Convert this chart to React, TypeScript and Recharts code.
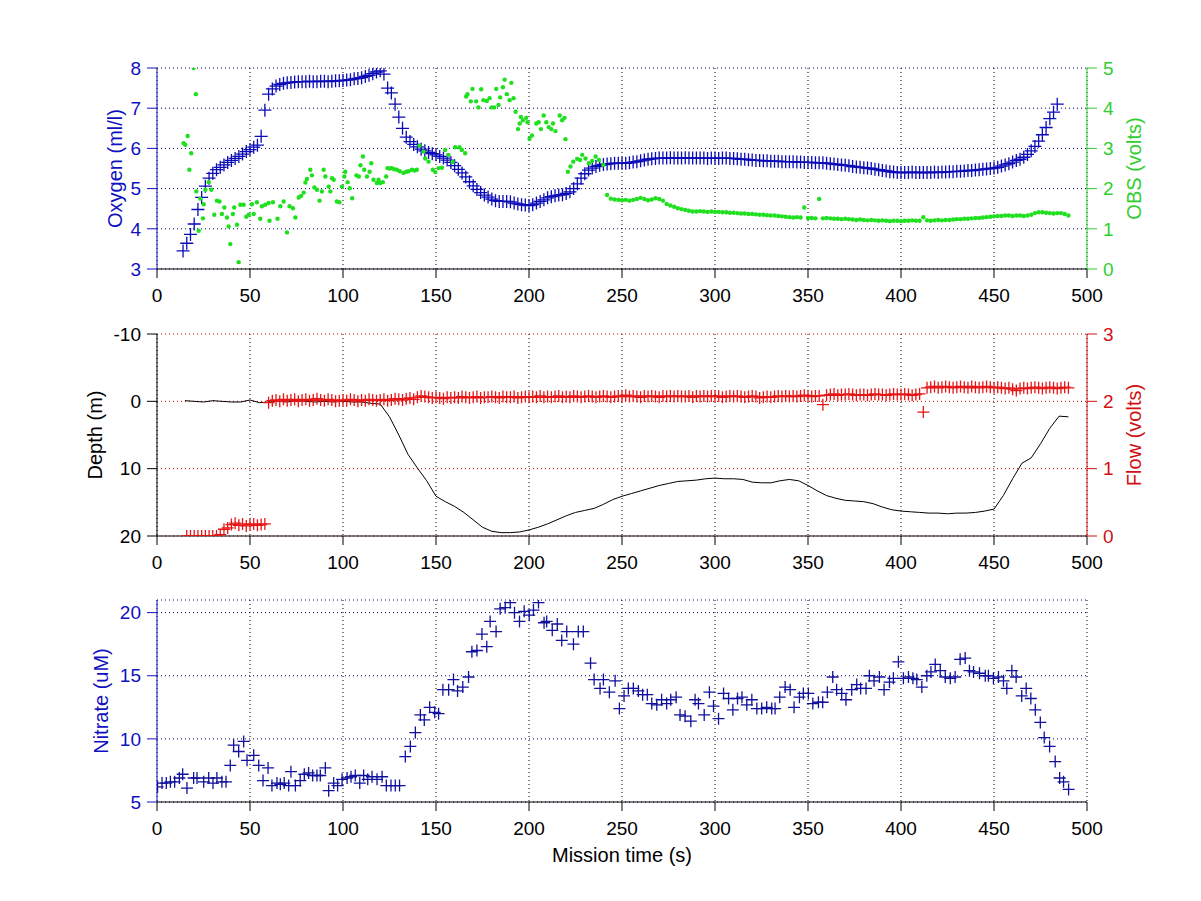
import {
  ComposedChart,
  Scatter,
  Line,
  XAxis,
  YAxis,
  CartesianGrid,
} from "recharts";

// ---- axis ticks ----
const X_TICKS = [0, 50, 100, 150, 200, 250, 300, 350, 400, 450, 500];
const OXY_TICKS = [3, 4, 5, 6, 7, 8];
const OBS_TICKS = [0, 1, 2, 3, 4, 5];
const DEPTH_TICKS = [-10, 0, 10, 20];
const FLOW_TICKS = [0, 1, 2, 3];
const NITRATE_TICKS = [5, 10, 15, 20];

// ---- oxygen (ml/l), one reading every 2 s from t = 14 s ----
const OXY_START = 14;
const OXY_STEP = 2;
const oxygen = [
  3.45, 3.64, 3.86, 4.12, 4.48, 4.78, 5.06, 5.26, 5.38, 5.47,
  5.53, 5.59, 5.65, 5.7, 5.75, 5.8, 5.86, 5.92, 5.97, 6.03,
  6.08, 6.3, 6.95, 7.35, 7.48, 7.55, 7.59, 7.62, 7.63, 7.64,
  7.65, 7.66, 7.66, 7.66, 7.67, 7.66, 7.66, 7.67, 7.67, 7.66,
  7.67, 7.68, 7.68, 7.69, 7.7, 7.71, 7.73, 7.74, 7.76, 7.79,
  7.82, 7.86, 7.9, 7.93, 7.85, 7.5, 7.38, 7.1, 6.78, 6.5,
  6.28, 6.17, 6.1, 6.04, 5.98, 5.94, 5.9, 5.87, 5.84, 5.8,
  5.76, 5.71, 5.65, 5.57, 5.48, 5.39, 5.29, 5.17, 5.07, 4.98,
  4.9, 4.84, 4.79, 4.74, 4.7, 4.68, 4.68, 4.68, 4.67, 4.64,
  4.62, 4.6, 4.59, 4.58, 4.6, 4.64, 4.68, 4.72, 4.77, 4.8,
  4.82, 4.84, 4.85, 4.88, 4.92, 5.0, 5.12, 5.26, 5.37, 5.46,
  5.51, 5.55, 5.58, 5.6, 5.61, 5.62, 5.63, 5.63, 5.63, 5.63,
  5.64, 5.66, 5.67, 5.69, 5.71, 5.73, 5.74, 5.75, 5.76, 5.76,
  5.76, 5.77, 5.76, 5.76, 5.76, 5.77, 5.76, 5.76, 5.76, 5.76,
  5.76, 5.75, 5.76, 5.76, 5.75, 5.76, 5.76, 5.75, 5.75, 5.74,
  5.73, 5.73, 5.72, 5.71, 5.7, 5.7, 5.69, 5.69, 5.68, 5.68,
  5.68, 5.67, 5.67, 5.67, 5.67, 5.66, 5.66, 5.65, 5.65, 5.65,
  5.64, 5.64, 5.64, 5.63, 5.62, 5.61, 5.6, 5.59, 5.58, 5.57,
  5.55, 5.54, 5.53, 5.52, 5.51, 5.5, 5.48, 5.47, 5.45, 5.44,
  5.42, 5.41, 5.4, 5.4, 5.4, 5.4, 5.41, 5.4, 5.4, 5.4,
  5.4, 5.4, 5.41, 5.4, 5.41, 5.41, 5.42, 5.42, 5.43, 5.43,
  5.44, 5.45, 5.45, 5.46, 5.47, 5.48, 5.49, 5.5, 5.51, 5.53,
  5.56, 5.59, 5.62, 5.66, 5.7, 5.73, 5.78, 5.85, 5.94, 6.05,
  6.18, 6.34, 6.52, 6.74, 6.9, 7.1,
];

// ---- OBS (volts): scattered readings before 242 s ----
const obsEarly: [number, number][] = [
  [14.3, 3.13], [15.2, 3.09], [16.5, 3.31], [17.4, 2.47], [18.4, 2.88], [19.7, 5.0], [20.9, 4.35],
  [21.1, 1.93], [22.4, 0.95], [23.3, 1.75], [24.7, 1.26], [25.1, 1.61], [26, 1.97], [27.8, 2.16],
  [29.2, 1.97], [30.8, 1.35], [32.2, 1.7], [33.6, 1.68], [34.9, 1.37], [36.2, 1.53], [37.6, 1.28],
  [38.5, 1.06], [39.4, 0.62], [40.8, 1.37], [41.5, 1.53], [43, 1.1], [43.9, 0.17], [44.8, 1.6],
  [46.6, 1.6], [48, 1.3], [49.3, 1.35], [51, 1.61], [52, 1.37], [53.7, 1.66], [55.5, 1.25],
  [56.4, 1.56], [58.2, 1.6], [60, 1.64], [60.5, 1.2], [62.3, 1.66], [64.8, 1.25], [66.3, 1.56],
  [68.1, 1.68], [69.9, 0.91], [71.3, 1.56], [73.1, 1.51], [74.4, 1.28], [76.2, 1.78], [77.5, 1.82],
  [78.9, 1.9], [79.8, 2.15], [80.6, 2.24], [82.4, 2.47], [83.3, 2.33], [84.6, 2.03], [86, 1.97],
  [87.4, 1.7], [88.7, 1.93], [89.6, 2.47], [90.5, 2.3], [92.3, 2.05], [93.2, 1.93], [94.1, 2.26],
  [95, 2.22], [96.7, 1.68], [98.1, 1.66], [99.4, 2.05], [100.7, 2.3], [101.2, 2.42], [102.5, 2.16],
  [103.6, 2.01], [104.9, 1.76], [107.2, 2.33], [108.5, 2.3], [109.4, 2.58], [110.7, 2.8], [111.4, 2.47],
  [112.9, 2.3], [114.3, 2.42], [115.2, 2.63], [116.4, 2.22], [118.2, 2.14], [119.1, 2.22], [120, 2.14],
  [121.4, 2.16], [123.2, 2.3], [123.9, 2.51], [125, 2.5], [126.2, 2.51], [127.5, 2.48], [129, 2.47],
  [130.5, 2.43], [132.5, 2.39], [134, 2.42], [135.2, 2.43], [137, 2.47], [138.5, 2.45], [139.7, 2.47],
  [141.1, 3.07], [143.3, 2.92], [144.2, 2.75], [146, 2.67], [148.3, 2.47], [149.6, 2.41], [151.4, 2.51],
  [153.2, 2.52], [154.9, 2.96], [156.7, 2.84], [159, 2.66], [160.3, 3.03], [162.6, 3.03], [163.9, 2.96],
  [165.7, 2.88], [166.2, 4.29], [166.9, 4.35], [168.7, 4.17], [169.6, 4.48], [171.6, 4.17], [172.8, 4.02],
  [174.3, 4.47], [175.5, 4.2], [177.3, 4.18], [178.8, 4.25], [180, 4.02], [181.3, 4.02], [182.4, 4.48],
  [183.6, 4.08], [184.5, 4.27], [186, 4.52], [186.9, 4.71], [188.1, 4.35], [189.6, 4.2], [190.5, 4.63],
  [191.7, 4.25], [192.8, 3.91], [194.1, 3.48], [195, 3.62], [195.6, 3.78], [196.7, 3.7], [198.5, 3.76],
  [199.2, 3.65], [200.3, 3.24], [201.6, 3.32], [203.9, 3.62], [205.2, 3.65], [206.4, 3.48], [207.9, 3.82],
  [209.3, 3.65], [210.6, 3.53], [212, 3.48], [212.9, 3.62], [214.2, 3.43], [216.5, 3.82], [217.8, 3.7],
  [219.1, 3.76], [219.6, 3.23], [220.9, 2.42], [222.3, 2.55], [223.8, 2.67], [225.9, 2.74], [227.4, 2.71],
  [228.6, 2.84], [230.4, 2.75], [232.2, 2.63], [234, 2.69], [235.8, 2.8], [237.6, 2.71], [240, 2.59],
];

// ---- OBS (volts): dense readings every 2 s from t = 242 s ----
const OBS_START = 242;
const OBS_STEP = 2;
const obsLate = [
  1.84, 1.75, 1.73, 1.72, 1.71, 1.72, 1.7, 1.72, 1.74, 1.77,
  1.74, 1.71, 1.73, 1.76, 1.74, 1.7, 1.62, 1.58, 1.55, 1.51,
  1.49, 1.47, 1.45, 1.43, 1.43, 1.44, 1.43, 1.42, 1.43, 1.42,
  1.42, 1.41, 1.41, 1.4, 1.4, 1.39, 1.38, 1.38, 1.37, 1.37,
  1.36, 1.35, 1.35, 1.34, 1.33, 1.33, 1.32, 1.31, 1.3, 1.29,
  1.28, 1.29, 1.28, 1.53, 1.27, 1.27, 1.26, 1.74, 1.26, 1.27,
  1.26, 1.25, 1.25, 1.24, 1.25, 1.24, 1.23, 1.22, 1.23, 1.22,
  1.21, 1.22, 1.21, 1.2, 1.21, 1.2, 1.19, 1.2, 1.2, 1.19,
  1.2, 1.2, 1.21, 1.2, 1.2, 1.29, 1.21, 1.2, 1.21, 1.22,
  1.21, 1.22, 1.22, 1.23, 1.24, 1.24, 1.25, 1.25, 1.26, 1.27,
  1.27, 1.28, 1.29, 1.3, 1.31, 1.32, 1.32, 1.33, 1.33, 1.32,
  1.33, 1.33, 1.32, 1.33, 1.35, 1.39, 1.41, 1.41, 1.4, 1.39,
  1.38, 1.39, 1.39, 1.37, 1.33,
];

// ---- depth (m), every 5 s from t = 15 s ----
const DEPTH_START = 15;
const DEPTH_STEP = 5;
const depth = [
  -0.1, 0.0, 0.1, -0.1, 0.0, 0.1, 0.1, -0.2, 0.2, 0.1,
  0.0, 0.1, -0.1, 0.0, 0.1, 0.0, 0.1, 0.0, 0.1, 0.1,
  0.3, 0.4, 2.3, 5.0, 7.9, 9.9, 11.8, 14.1, 14.9, 15.6,
  16.5, 17.6, 18.7, 19.3, 19.5, 19.5, 19.4, 19.1, 18.7, 18.2,
  17.6, 17.0, 16.5, 16.2, 15.9, 15.3, 14.6, 14.1, 13.7, 13.3,
  12.9, 12.5, 12.2, 11.9, 11.8, 11.7, 11.5, 11.4, 11.5, 11.5,
  11.6, 12.0, 12.1, 12.1, 11.8, 11.6, 11.8, 12.5, 13.3, 14.0,
  14.4, 14.7, 14.8, 14.9, 15.2, 15.7, 16.1, 16.3, 16.4, 16.5,
  16.6, 16.6, 16.7, 16.6, 16.6, 16.5, 16.3, 16.0, 14.0, 11.5,
  9.2, 8.4, 6.3, 4.0, 2.2, 2.3,
];

// ---- flow (volts), every 2 s from t = 16 s ----
const FLOW_START = 16;
const FLOW_STEP = 2;
const flow = [
  0, 0, 0, 0, 0, 0, 0, 0, 0, 0.02,
  0.1, 0.12, 0.17, 0.19, 0.16, 0.18, 0.15, 0.17, 0.18, 0.16,
  0.17, 0.18,
  1.98, 2.01, 2.02, 2.0, 2.03, 2.01, 2.02, 2.03, 2.0, 2.02,
  2.03, 2.01, 2.02, 2.04, 2.02, 2.01, 2.03, 2.02, 2.0, 2.01,
  2.02, 2.01, 2.03, 2.02, 2.0, 2.02, 2.01, 2.03, 2.02, 2.01,
  2.02, 2.03, 2.01, 2.02, 2.04, 2.03, 2.02, 2.04, 2.05, 2.03,
  2.06, 2.08, 2.07, 2.06, 2.05, 2.06, 2.05, 2.04, 2.06, 2.05,
  2.06, 2.05, 2.07, 2.06, 2.05, 2.06, 2.07, 2.05, 2.06, 2.06,
  2.07, 2.06, 2.05, 2.07, 2.06, 2.06, 2.07, 2.05, 2.06, 2.07,
  2.06, 2.07, 2.06, 2.08, 2.06, 2.07, 2.06, 2.07, 2.08, 2.06,
  2.07, 2.06, 2.08, 2.07, 2.06, 2.07, 2.08, 2.07, 2.06, 2.07,
  2.08, 2.07, 2.06, 2.07, 2.08, 2.07, 2.09, 2.07, 2.08, 2.07,
  2.06, 2.08, 2.07, 2.08, 2.07, 2.06, 2.08, 2.07, 2.08, 2.07,
  2.08, 2.07, 2.07, 2.08, 2.06, 2.08, 2.07, 2.08, 2.07, 2.08,
  2.07, 2.08, 2.06, 2.07, 2.08, 2.07, 2.08, 2.07, 2.06, 2.07,
  2.08, 2.07, 2.05, 2.06, 2.07, 2.06, 2.07, 2.08, 2.07, 2.08,
  2.07, 2.08, 2.07, 2.08, 2.09, 2.08, 2.07, 2.08, 2.08, 1.95,
  2.09, 2.1, 2.11, 2.09, 2.1, 2.1, 2.11, 2.1, 2.09, 2.1,
  2.1, 2.09, 2.1, 2.11, 2.1, 2.1, 2.09, 2.1, 2.11, 2.1,
  2.1, 2.11, 2.1, 2.09, 2.1, 2.11,
  1.84,
  2.2, 2.21, 2.22, 2.2, 2.21, 2.22, 2.21, 2.2, 2.21, 2.22,
  2.21, 2.2, 2.22, 2.21, 2.2, 2.21, 2.22, 2.21, 2.2, 2.21,
  2.2, 2.19, 2.2, 2.18, 2.16, 2.19, 2.2, 2.19, 2.2, 2.21,
  2.2, 2.19, 2.2, 2.21, 2.2, 2.19, 2.2, 2.21, 2.2,
];

// ---- nitrate (uM), [time s, value] ----
const nitrate: [number, number][] = [
  [0.3, 6.2], [2.7, 6.5], [5, 6.5], [7.2, 6.6], [9.5, 6.6], [12, 6.9], [13.8, 7.2], [16.1, 6.1],
  [19.7, 6.9], [21.5, 6.9], [25.1, 6.6], [27.8, 6.9], [30.1, 6.5], [32.2, 6.9], [34.9, 6.6], [37.1, 6.6],
  [39.4, 7.9], [41.2, 9.5], [43.9, 9.0], [46.6, 9.8], [48.4, 8.3], [52, 8.7], [54.7, 7.9], [57, 6.7],
  [59.7, 7.7], [61.8, 6.3], [64.5, 6.5], [66.3, 6.4], [68.4, 6.5], [70.8, 6.3], [72, 7.4], [74.4, 6.3],
  [77, 6.7], [79.2, 7.2], [81.5, 7.3], [83.7, 7.1], [86, 7.1], [87.8, 7.1], [90.5, 7.7], [92.3, 5.9],
  [95, 6.5], [97.1, 6.3], [99.5, 6.8], [102.2, 6.9], [104.3, 7.0], [106.6, 7.1], [109, 6.5], [111.1, 7.1],
  [113.3, 6.8], [115.6, 7.0], [118.3, 6.8], [121, 7.0], [123.3, 6.3], [125.8, 6.3], [128.1, 6.3], [130.4, 6.3],
  [133.5, 8.6], [136.2, 9.4], [138.9, 10.5], [141.6, 11.9], [143.7, 11.5], [146.6, 12.5], [149.3, 12.1], [151.4, 12.0],
  [153.7, 13.9], [156.8, 13.9], [159.4, 14.7], [161.6, 13.8], [164.4, 14.1], [167.5, 14.9], [169.3, 16.9], [172, 17.0],
  [174.7, 18.3], [177.3, 17.3], [179.1, 19.3], [182.3, 18.5], [184.5, 20.3], [187.2, 20.4], [189.9, 20.8], [192.2, 20.0],
  [194.9, 19.3], [197.4, 20.1], [200.1, 19.8], [202.4, 20.2], [205.1, 20.8], [208.1, 19.2], [209.5, 19.3], [212.5, 18.6],
  [215.2, 19.1], [217.6, 17.8], [220.3, 18.5], [223.9, 17.5], [226.5, 18.5], [229.2, 18.5], [233.1, 16.0], [235, 14.7],
  [238.2, 14.0], [240, 14.7], [243.2, 13.7], [246.3, 14.6], [248.6, 12.4], [251.1, 13.4], [253.4, 14.0], [256.1, 14.0],
  [258.8, 13.8], [261.1, 13.5], [263.6, 13.5], [266, 12.8], [268.7, 12.7], [271.3, 13.1], [274, 12.8], [276.2, 13.1],
  [279.1, 13.3], [281.2, 11.9], [283.9, 11.8], [287, 11.4], [289.3, 13.1], [291.1, 12.8], [294.2, 11.9], [297, 13.7],
  [299.2, 12.6], [301.9, 11.6], [304.6, 13.6], [307.3, 13.2], [309.6, 12.3], [312.1, 13.2], [314.5, 13.3], [317.1, 12.7],
  [319.8, 13.1], [322.5, 12.4], [325.1, 12.4], [327.8, 12.5], [330.5, 12.4], [332.3, 12.4], [334.8, 13.3], [337.7, 14.1],
  [340.4, 13.9], [342.5, 12.5], [345.4, 13.3], [347.5, 13.6], [350.2, 13.6], [352.6, 12.8], [355.6, 12.9], [357.9, 12.9],
  [360.4, 13.7], [363.3, 14.9], [365.4, 13.9], [368.1, 13.6], [370.4, 13.1], [373.5, 13.9], [376.2, 14.3], [378.3, 14.0],
  [381.2, 14.0], [383, 15.0], [385.5, 14.6], [388.4, 14.9], [390.9, 13.9], [393.8, 14.5], [395.9, 14.8], [398.6, 16.1],
  [401.3, 14.8], [404, 14.9], [406.4, 14.8], [408.5, 14.7], [411.2, 14.1], [413.9, 15.0], [416.1, 15.3], [418.4, 15.9],
  [421.1, 15.4], [423.8, 14.9], [426.5, 14.8], [429.1, 14.9], [431.8, 16.3], [434.5, 16.4], [436.8, 15.4], [439, 15.3],
  [442.2, 15.2], [445.3, 15.0], [447, 15.0], [449.7, 14.8], [452.4, 14.9], [455.1, 14.6], [456.9, 14.0], [459.6, 15.4],
  [461.9, 14.9], [464.9, 13.4], [467.3, 14.0], [469.8, 13.2], [472.2, 12.3], [474.9, 11.3], [477, 10.1], [479.9, 9.4],
  [482.9, 8.2], [485.3, 6.9], [487.4, 6.6], [490.1, 6.0],
];

// ---- colours / style ----
const FONT = '"Liberation Sans", Arial, sans-serif';
const BLUE = "#1010c0";
const OXY = "#0a0ab8";
const NIT = "#10109c";
const GREEN_AX = "#2fcf2f";
const GREEN_DOT = "#1fe01f";
const RED_AX = "#d01010";
const RED_MK = "#e81414";
const GRID_DOTS = "1 3";
const TICK_FS = 19;
const LABEL_FS = 20;

type Pt = { t: number; v: number };
const regular = (start: number, step: number, vals: number[]): Pt[] =>
  vals.map((v, i) => ({ t: start + i * step, v }));
const pairs = (rows: [number, number][]): Pt[] => rows.map(([t, v]) => ({ t, v }));

const oxyPts = regular(OXY_START, OXY_STEP, oxygen);
const obsPts = [...pairs(obsEarly), ...regular(OBS_START, OBS_STEP, obsLate)];
const depthPts = regular(DEPTH_START, DEPTH_STEP, depth);
const flowPts = regular(FLOW_START, FLOW_STEP, flow);
const nitratePts = pairs(nitrate);

function plus(color: string, half: number, width = 1.2) {
  return (p: any) => {
    const { cx, cy } = p;
    if (cx == null || cy == null) return <g />;
    return (
      <path
        d={`M${cx - half},${cy}H${cx + half}M${cx},${cy - half}V${cy + half}`}
        stroke={color}
        strokeWidth={width}
        fill="none"
      />
    );
  };
}

const dot = (p: any) =>
  p.cx == null ? <g /> : <circle cx={p.cx} cy={p.cy} r={2.2} fill={GREEN_DOT} />;

function xAxis(label?: string) {
  return (
    <XAxis
      dataKey="t"
      type="number"
      domain={[0, 500]}
      ticks={X_TICKS}
      interval={0}
      allowDataOverflow
      stroke="#000"
      tickSize={9}
      tickMargin={11}
      height={label ? 60 : 40}
      tick={{ fill: "#000", fontSize: TICK_FS, fontFamily: FONT }}
      label={
        label
          ? { value: label, position: "insideBottom", offset: 0, fill: "#000", fontSize: LABEL_FS, fontFamily: FONT }
          : undefined
      }
    />
  );
}

function yAxis(
  id: string,
  side: "left" | "right",
  domain: [number, number],
  ticks: number[],
  color: string,
  width: number,
  label: string,
  reversed = false
) {
  return (
    <YAxis
      yAxisId={id}
      orientation={side}
      type="number"
      domain={domain}
      ticks={ticks}
      interval={0}
      allowDataOverflow
      reversed={reversed}
      width={width}
      stroke={color}
      tickSize={10}
      tickMargin={6}
      tick={{ fill: color, fontSize: TICK_FS, fontFamily: FONT }}
      label={{
        value: label,
        angle: -90,
        position: "center",
        fill: color,
        fontSize: LABEL_FS,
        fontFamily: FONT,
      }}
    />
  );
}

export default function App() {
  return (
    <div
      style={{
        position: "absolute",
        left: 0,
        top: 0,
        width: 1201,
        height: 901,
        background: "#fff",
        fontFamily: FONT,
      }}
    >
      {/* oxygen + OBS */}
      <div style={{ position: "absolute", left: 0, top: 0 }}>
        <ComposedChart width={1201} height={320} margin={{ top: 68, right: 20, bottom: 11, left: 73 }}>
          <CartesianGrid horizontal={false} stroke="#000" strokeDasharray={GRID_DOTS} yAxisId="o2" />
          <CartesianGrid vertical={false} stroke="#000066" strokeDasharray={GRID_DOTS} yAxisId="o2" />
          {xAxis()}
          {yAxis("o2", "left", [3, 8], OXY_TICKS, BLUE, 84, "Oxygen (ml/l)")}
          {yAxis("obs", "right", [0, 5], OBS_TICKS, GREEN_AX, 94, "OBS (volts)")}
          <Scatter yAxisId="o2" data={oxyPts} dataKey="v" shape={plus(OXY, 6.5, 1.3)} isAnimationActive={false} />
          <Scatter yAxisId="obs" data={obsPts} dataKey="v" shape={dot} isAnimationActive={false} />
        </ComposedChart>
      </div>

      {/* depth + flow */}
      <div style={{ position: "absolute", left: 0, top: 300 }}>
        <ComposedChart width={1201} height={280} margin={{ top: 34, right: 20, bottom: 4, left: 33 }}>
          <CartesianGrid horizontal={false} stroke="#000" strokeDasharray={GRID_DOTS} yAxisId="flow" />
          <CartesianGrid vertical={false} stroke="#c00000" strokeDasharray={GRID_DOTS} yAxisId="flow" />
          {xAxis()}
          {yAxis("depth", "left", [-10, 20], DEPTH_TICKS, "#000", 124, "Depth (m)", true)}
          {yAxis("flow", "right", [0, 3], FLOW_TICKS, RED_AX, 94, "Flow (volts)")}
          <Line
            yAxisId="depth"
            data={depthPts}
            dataKey="v"
            type="linear"
            stroke="#000"
            strokeWidth={1}
            dot={false}
            activeDot={false}
            isAnimationActive={false}
          />
          <Scatter yAxisId="flow" data={flowPts} dataKey="v" shape={plus(RED_MK, 6, 1.3)} isAnimationActive={false} />
        </ComposedChart>
      </div>

      {/* nitrate */}
      <div style={{ position: "absolute", left: 0, top: 580 }}>
        <ComposedChart width={1201} height={321} margin={{ top: 20, right: 114, bottom: 39, left: 45 }}>
          <CartesianGrid horizontal={false} stroke="#000" strokeDasharray={GRID_DOTS} yAxisId="no3" />
          <CartesianGrid vertical={false} stroke="#000066" strokeDasharray={GRID_DOTS} yAxisId="no3" />
          {xAxis("Mission time (s)")}
          {yAxis("no3", "left", [5, 21], NITRATE_TICKS, BLUE, 112, "Nitrate (uM)")}
          <Scatter yAxisId="no3" data={nitratePts} dataKey="v" shape={plus(NIT, 6, 1.3)} isAnimationActive={false} />
        </ComposedChart>
      </div>
    </div>
  );
}
